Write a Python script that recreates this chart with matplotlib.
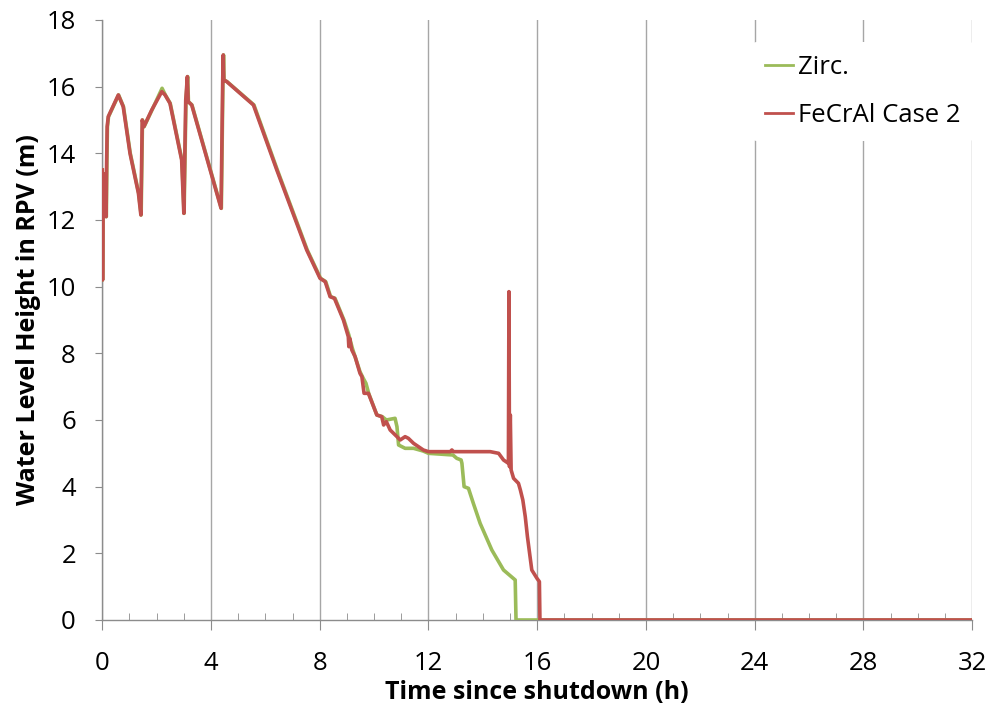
import matplotlib
matplotlib.use("Agg")
import matplotlib.pyplot as plt
from matplotlib.ticker import MultipleLocator

# Water level in RPV (m) vs time since shutdown (h)
zirc_t = [0.0, 0.01, 0.03, 0.15, 0.17, 0.19, 0.23, 0.60, 0.78, 1.03, 1.34, 1.43, 1.48, 1.54,
          1.83, 2.20, 2.32, 2.50, 2.93, 3.01, 3.08, 3.14, 3.17, 3.30, 4.38, 4.44, 4.46,
          4.48, 4.59, 5.58, 6.44, 7.54, 8.03, 8.22, 8.40, 8.56, 8.89, 9.07, 9.20, 9.48,
          9.60, 9.70, 9.80, 10.10, 10.30, 10.45, 10.77, 10.84, 10.90, 11.14, 11.45, 11.80,
          12.00, 12.90, 13.04, 13.20, 13.23, 13.31, 13.47, 13.65, 13.90, 14.33, 14.76,
          15.19, 15.22, 32.0]
zirc_h = [13.5, 10.2, 13.4, 12.1, 13.7, 14.8, 15.1, 15.75, 15.4, 14.0, 12.8, 12.15, 15.0, 14.8,
          15.3, 15.95, 15.75, 15.5, 13.8, 12.2, 15.6, 16.3, 15.55, 15.45, 12.35, 16.2, 16.95,
          16.2, 16.15, 15.45, 13.5, 11.1, 10.25, 10.15, 9.7, 9.65, 9.0, 8.55, 8.15, 7.45,
          7.25, 7.1, 6.8, 6.15, 6.1, 6.0, 6.05, 5.8, 5.25, 5.15, 5.15, 5.07,
          5.0, 4.95, 4.85, 4.8, 4.7, 4.0, 3.95, 3.5, 2.9, 2.1, 1.5,
          1.2, 0.0, 0.0]

fecral_t = [0.0, 0.01, 0.03, 0.14, 0.16, 0.18, 0.22, 0.59, 0.77, 1.02, 1.33, 1.42, 1.47, 1.53,
            1.82, 2.19, 2.31, 2.49, 2.92, 3.00, 3.07, 3.13, 3.16, 3.29, 4.37, 4.43, 4.45,
            4.47, 4.58, 5.56, 6.42, 7.52, 8.01, 8.20, 8.38, 8.54, 8.87, 9.05, 9.07, 9.10,
            9.18, 9.30, 9.48, 9.55, 9.63, 9.79, 10.10, 10.28, 10.35, 10.45, 10.59, 10.84,
            10.96, 11.14, 11.26, 11.45, 11.81, 12.00, 12.80, 12.86, 12.92, 14.27, 14.58,
            14.76, 14.94, 14.96, 14.98, 15.01, 15.04, 15.13, 15.31, 15.38, 15.47, 15.56,
            15.64, 15.80, 15.99, 16.08, 16.10, 32.0]
fecral_h = [13.5, 10.2, 13.4, 12.1, 13.7, 14.8, 15.1, 15.75, 15.4, 14.0, 12.8, 12.15, 15.0, 14.8,
            15.3, 15.85, 15.75, 15.5, 13.8, 12.2, 15.6, 16.3, 15.55, 15.45, 12.35, 16.2, 16.95,
            16.2, 16.15, 15.45, 13.5, 11.1, 10.25, 10.15, 9.7, 9.65, 9.0, 8.5, 8.2, 8.45,
            8.1, 7.9, 7.4, 7.3, 6.8, 6.8, 6.15, 6.1, 5.85, 5.95, 5.7, 5.5,
            5.4, 5.5, 5.45, 5.3, 5.1, 5.05, 5.05, 5.1, 5.05, 5.05, 5.0,
            4.8, 4.7, 9.85, 4.6, 6.15, 4.5, 4.25, 4.1, 3.9, 3.6, 3.1,
            2.5, 1.5, 1.25, 1.15, 0.0, 0.0]

x_ticks = [0, 4, 8, 12, 16, 20, 24, 28, 32]
y_ticks = [0, 2, 4, 6, 8, 10, 12, 14, 16, 18]

GREEN = "#9BBB59"
RED = "#C0504D"
GRID = "#a6a6a6"
AXC = "#8c8c8c"

plt.rcParams["font.family"] = ["Open Sans", "DejaVu Sans"]

fig = plt.figure(figsize=(9.91, 7.08), dpi=100)
ax = fig.add_axes([0.1032, 0.1243, 0.8778, 0.8475])

ax.plot(zirc_t, zirc_h, color=GREEN, lw=2.6, label="Zirc.", zorder=3)
ax.plot(fecral_t, fecral_h, color=RED, lw=2.6, label="FeCrAl Case 2", zorder=4)

ax.set_xlim(0, 32)
ax.set_ylim(0, 18)
ax.set_xticks(x_ticks)
ax.set_yticks(y_ticks)
ax.xaxis.set_minor_locator(MultipleLocator(1))
ax.grid(axis="x", which="major", color=GRID, lw=1)
ax.set_axisbelow(True)

for s in ["top", "right"]:
    ax.spines[s].set_visible(False)
for s in ["left", "bottom"]:
    ax.spines[s].set_color(AXC)
    ax.spines[s].set_linewidth(1)

ax.tick_params(axis="x", which="major", direction="out", length=7, color=AXC,
               labelsize=18.5, pad=15)
ax.tick_params(axis="x", which="minor", direction="in", length=5, color=AXC)
ax.tick_params(axis="y", which="major", direction="out", length=5, color=AXC,
               labelsize=18.5, pad=14)

ax.set_xlabel("Time since shutdown (h)", fontsize=18, fontweight="bold", labelpad=3)
ax.set_ylabel("Water Level Height in RPV (m)", fontsize=18, fontweight="bold", labelpad=4)

leg = ax.legend(loc="upper left", bbox_to_anchor=(0.747, 0.963), fontsize=18.5,
                frameon=True, facecolor="white", edgecolor="none", framealpha=1,
                handlelength=1.1, handletextpad=0.2, labelspacing=0.9, borderpad=0.5,
                borderaxespad=0)
for line in leg.get_lines():
    line.set_linewidth(2)

fig.savefig("out.png", dpi=100)
